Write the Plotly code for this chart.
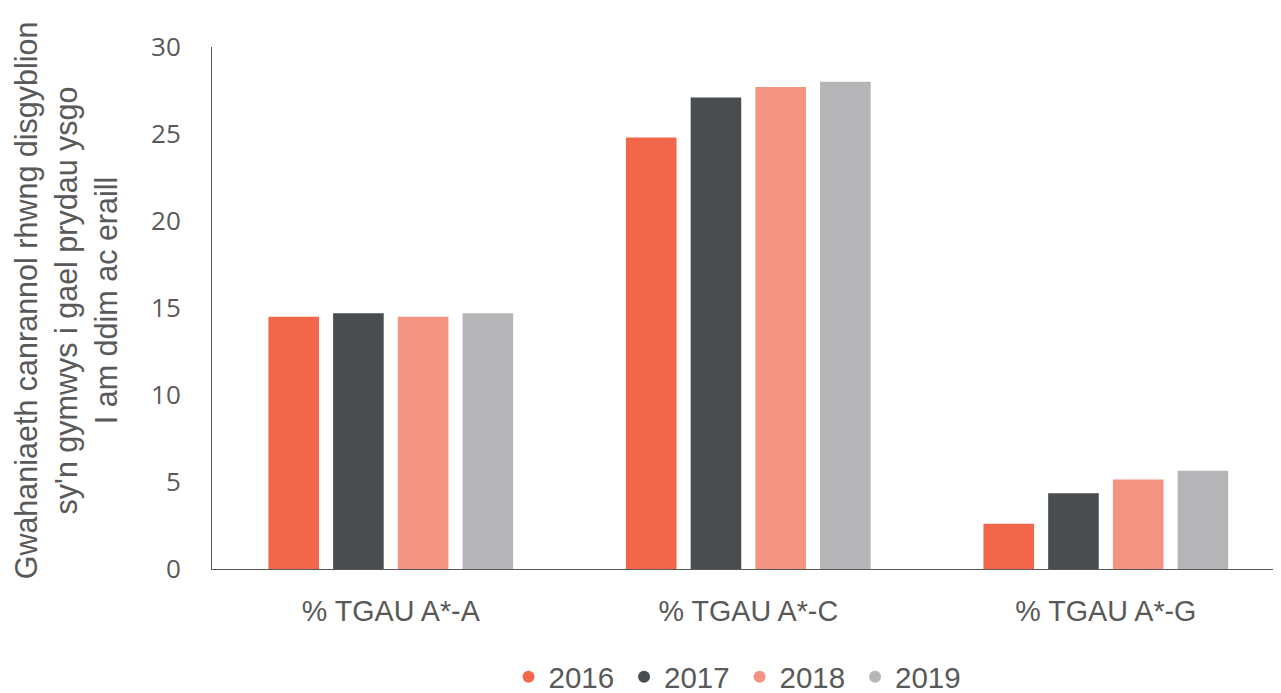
import plotly.graph_objects as go

categories = ["% TGAU A*-A", "% TGAU A*-C", "% TGAU A*-G"]
years = ["2016", "2017", "2018", "2019"]
values_2016 = [14.5, 24.8, 2.6]
values_2017 = [14.7, 27.1, 4.35]
values_2018 = [14.5, 27.7, 5.15]
values_2019 = [14.7, 28.0, 5.65]
series = [values_2016, values_2017, values_2018, values_2019]
colors = ["#F26649", "#4A4D50", "#F49381", "#B6B6B8"]
y_title = "Gwahaniaeth canrannol rhwng disgyblion<br>sy'n gymwys i gael prydau ysgo<br>I am ddim ac eraill"

fig = go.Figure()
for yr, vals, col in zip(years, series, colors):
    fig.add_trace(go.Bar(x=categories, y=vals, name=yr, marker=dict(color=col, line=dict(width=0)),
                         showlegend=False))
for yr, col in zip(years, colors):
    fig.add_trace(go.Scatter(x=[None], y=[None], mode="markers", name=yr,
                             marker=dict(symbol="circle", size=18, color=col)))

# page body has an 8px margin; size the figure so it fits in the window
fig.update_layout(
    width=1273, height=685,
    margin=dict(l=204, r=0, t=39, b=124, autoexpand=False),
    paper_bgcolor="white", plot_bgcolor="white",
    barmode="group", bargap=0.276, bargroupgap=0.218,
    font=dict(family="Liberation Sans, Arial", color="#595959"),
    legend=dict(orientation="h", x=0.4935, xanchor="center", y=-0.207, yanchor="middle",
                font=dict(size=29.5, color="#595959"), itemwidth=30, tracegroupgap=0,
                itemsizing="constant", entrywidth=70.5, entrywidthmode="pixels"),
    annotations=[dict(text=y_title, textangle=-90, xref="paper", yref="paper",
                      x=-0.1372, y=0.5153, xanchor="center", yanchor="middle", showarrow=False,
                      font=dict(size=30.5, color="#595959", family="Liberation Sans, Arial"))],
)
fig.update_xaxes(showline=True, linecolor="#595959", linewidth=1, showgrid=False, automargin=False,
                 range=[-0.5, 2.49],
                 ticks="", tickfont=dict(size=28.7, family="Liberation Sans, Arial", color="#595959"),
                 ticklabelstandoff=17)
fig.update_yaxes(range=[0, 30], dtick=5, showline=True, linecolor="#595959", linewidth=1,
                 showgrid=False, zeroline=False, ticks="", automargin=False,
                 tickfont=dict(size=26, family="Open Sans", color="#595959"),
                 ticklabelstandoff=25)
fig.write_html("out.html")
